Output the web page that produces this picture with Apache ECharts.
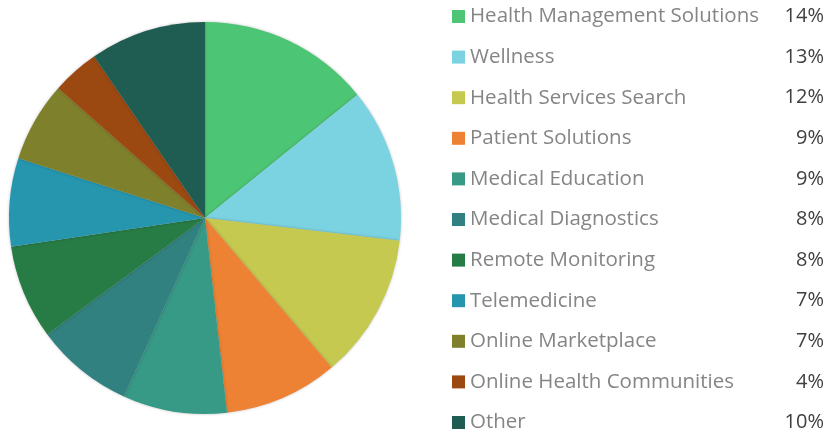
<!DOCTYPE html>
<html>
<head>
<meta charset="utf-8">
<script src="https://cdn.jsdelivr.net/npm/echarts@6/dist/echarts.min.js"></script>
<style>
  html, body { margin: 0; padding: 0; background: #fff; }
  #chart { width: 833px; height: 436px; }
</style>
</head>
<body>
<div id="chart"></div>
<script>
const categories = ['Health Management Solutions', 'Wellness', 'Health Services Search', 'Patient Solutions',
  'Medical Education', 'Medical Diagnostics', 'Remote Monitoring', 'Telemedicine',
  'Online Marketplace', 'Online Health Communities', 'Other'];
const shares = [14.2, 12.7, 12.0, 9.4, 8.6, 8.1, 7.8, 7.3, 6.6, 3.9, 9.6];
const colors = ['#4cc674', '#7bd3e2', '#c5c94f', '#ee8234', '#379a86', '#318180',
  '#277b45', '#2596ae', '#7e802c', '#9c4811', '#1f5c51'];

const total = shares.reduce((a, b) => a + b, 0);
const pctOf = {};
categories.forEach((c, i) => { pctOf[c] = Math.round(shares[i] / total * 100) + '%'; });

const myChart = echarts.init(document.getElementById('chart'));
const option = {
  animation: false,
  color: colors,
  legend: {
    orient: 'vertical',
    left: 452,
    top: 6,
    padding: 0,
    height: 436,
    itemWidth: 13,
    itemHeight: 13,
    itemGap: 19.6,
    icon: 'rect',
    data: categories,
    formatter: (name) => `{n|${name}}{p|${pctOf[name]}}`,
    textStyle: {
      rich: {
        n: { fontFamily: 'Open Sans', fontSize: 20.5, color: '#858585', width: 300, lineHeight: 24 },
        p: { fontFamily: 'Open Sans', fontSize: 20, color: '#404040', width: 54, align: 'right', lineHeight: 24 }
      }
    }
  },
  series: [
    {
      type: 'pie',
      center: [205, 218],
      radius: 196,
      startAngle: 90,
      clockwise: true,
      label: { show: false },
      labelLine: { show: false },
      emphasis: { disabled: true },
      itemStyle: { shadowBlur: 3, shadowColor: 'rgba(0,0,0,0.25)' },
      data: categories.map((c, i) => ({ name: c, value: shares[i] }))
    }
  ]
};
myChart.setOption(option);
</script>
</body>
</html>
